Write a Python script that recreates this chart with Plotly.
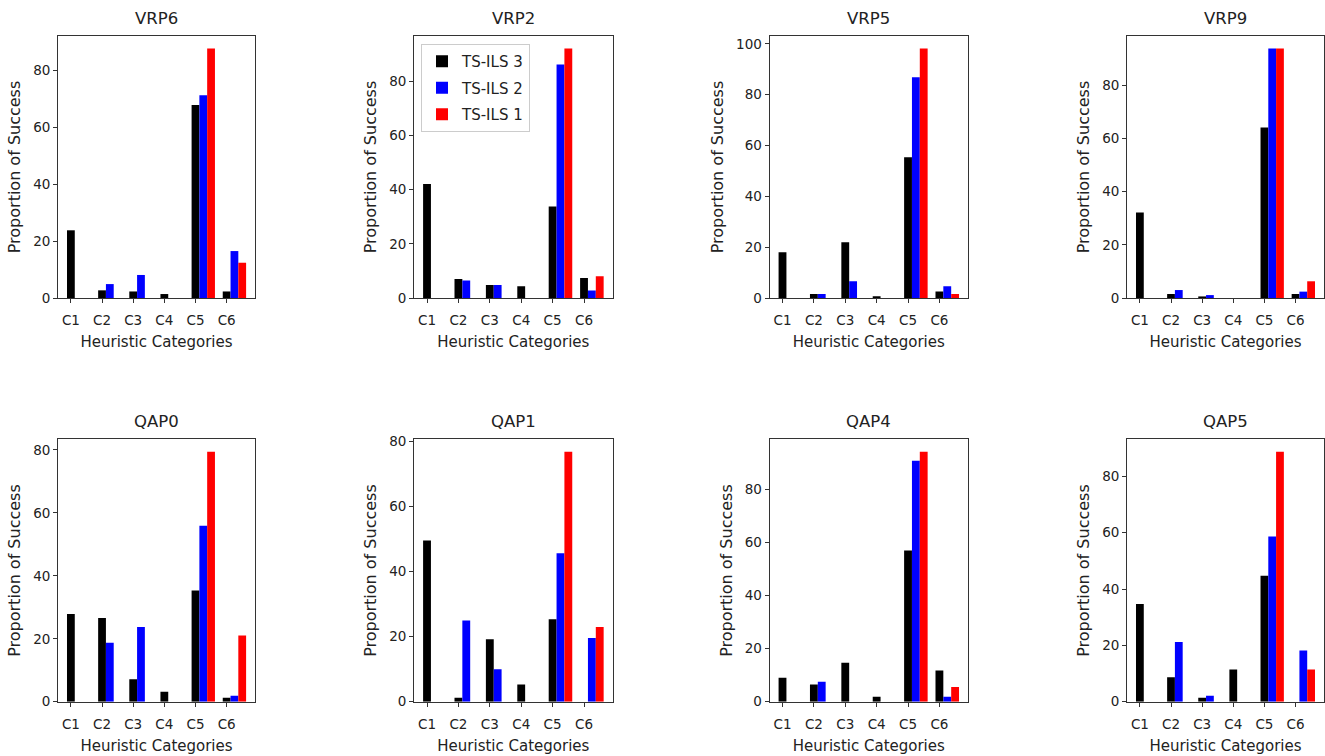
import plotly.graph_objects as go

categories = ["C1", "C2", "C3", "C4", "C5", "C6"]
instances = ["VRP6", "VRP2", "VRP5", "VRP9", "QAP0", "QAP1", "QAP4", "QAP5"]
series_names = ["TS-ILS 3", "TS-ILS 2", "TS-ILS 1"]
series_colors = ["#000000", "#0000ff", "#ff0000"]

# values per instance: TS-ILS 3, TS-ILS 2, TS-ILS 1
vrp6_ts3 = [23.8, 2.7, 2.3, 1.4, 67.8, 2.3]
vrp6_ts2 = [0, 4.9, 8.1, 0, 71.3, 16.5]
vrp6_ts1 = [0, 0, 0, 0, 87.7, 12.4]

vrp2_ts3 = [42.1, 7.0, 4.8, 4.3, 33.8, 7.4]
vrp2_ts2 = [0, 6.5, 4.8, 0, 86.2, 2.8]
vrp2_ts1 = [0, 0, 0, 0, 92.1, 8.0]

vrp5_ts3 = [18.0, 1.6, 21.9, 0.7, 55.4, 2.6]
vrp5_ts2 = [0, 1.6, 6.6, 0, 86.9, 4.6]
vrp5_ts1 = [0, 0, 0, 0, 98.2, 1.6]

vrp9_ts3 = [32.2, 1.5, 0.6, 0, 64.2, 1.5]
vrp9_ts2 = [0, 3.0, 1.1, 0, 93.9, 2.4]
vrp9_ts1 = [0, 0, 0, 0, 93.9, 6.3]

qap0_ts3 = [27.9, 26.6, 7.1, 3.2, 35.3, 1.3]
qap0_ts2 = [0, 18.7, 23.7, 0, 55.9, 1.9]
qap0_ts1 = [0, 0, 0, 0, 79.4, 21.0]

qap1_ts3 = [49.6, 1.2, 19.2, 5.3, 25.4, 0]
qap1_ts2 = [0, 25.0, 10.0, 0, 45.7, 19.6]
qap1_ts1 = [0, 0, 0, 0, 76.9, 23.0]

qap4_ts3 = [9.0, 6.5, 14.7, 1.9, 57.1, 11.8]
qap4_ts2 = [0, 7.5, 0, 0, 90.9, 1.9]
qap4_ts1 = [0, 0, 0, 0, 94.3, 5.6]

qap5_ts3 = [34.7, 8.7, 1.4, 11.4, 44.7, 0]
qap5_ts2 = [0, 21.2, 2.1, 0, 58.6, 18.2]
qap5_ts1 = [0, 0, 0, 0, 88.7, 11.4]

data = {
    "VRP6": [vrp6_ts3, vrp6_ts2, vrp6_ts1],
    "VRP2": [vrp2_ts3, vrp2_ts2, vrp2_ts1],
    "VRP5": [vrp5_ts3, vrp5_ts2, vrp5_ts1],
    "VRP9": [vrp9_ts3, vrp9_ts2, vrp9_ts1],
    "QAP0": [qap0_ts3, qap0_ts2, qap0_ts1],
    "QAP1": [qap1_ts3, qap1_ts2, qap1_ts1],
    "QAP4": [qap4_ts3, qap4_ts2, qap4_ts1],
    "QAP5": [qap5_ts3, qap5_ts2, qap5_ts1],
}

bar_w = 0.25
x_domains = [[0.0438, 0.1925], [0.3125, 0.4624], [0.5808, 0.7306], [0.8506, 0.9992]]
y_domains = [[0.6058, 0.9524], [0.0718, 0.4189]]
legend_panel = "VRP2"

FONT = "DejaVu Sans, Arial, sans-serif"
TXT = "#222222"

fig = go.Figure()
layout = dict(
    width=1325, height=756,
    margin=dict(l=0, r=0, t=0, b=0, autoexpand=False),
    paper_bgcolor="white", plot_bgcolor="white",
    barmode="overlay",
    font=dict(family=FONT, color=TXT),
    showlegend=True,
    legend=dict(x=421 / 1325, y=1 - 44 / 756, xanchor="left", yanchor="top",
                bgcolor="white", bordercolor="#cccccc", borderwidth=1,
                font=dict(size=15, family=FONT, color=TXT), tracegroupgap=4),
)
annotations = []

lo = -bar_w / 2
hi = (len(categories) - 1) + (len(series_names) - 0.5) * bar_w
pad = 0.05 * (hi - lo)

for k, name in enumerate(instances):
    r, c = divmod(k, 4)
    idx = "" if k == 0 else str(k + 1)
    xa, ya = "x" + idx, "y" + idx
    vals = data[name]
    ymax = max(max(v) for v in vals)
    for s, (sname, col) in enumerate(zip(series_names, series_colors)):
        fig.add_trace(go.Bar(
            x=categories, y=vals[s], name=sname,
            width=bar_w, offset=-bar_w / 2 + s * bar_w,
            marker=dict(color=col, line=dict(width=0)),
            xaxis=xa, yaxis=ya,
            legendgroup=sname, showlegend=(name == legend_panel),
        ))
    axis_common = dict(
        showline=True, mirror=True, linecolor="#333333", linewidth=1,
        ticks="outside", ticklen=4, tickcolor="#333333", showgrid=False,
        zeroline=False, automargin=False,
        tickfont=dict(size=13.5, family=FONT, color=TXT),
    )
    layout["xaxis" + idx] = dict(
        axis_common, domain=x_domains[c], anchor=ya,
        type="category", categoryorder="array", categoryarray=categories,
        range=[lo - pad, hi + pad], ticklabelstandoff=6,
        title=dict(text="Heuristic Categories", standoff=9,
                   font=dict(size=15, family=FONT, color=TXT)),
    )
    layout["yaxis" + idx] = dict(
        axis_common, domain=y_domains[r], anchor=xa,
        range=[0, ymax * 1.05], dtick=20, tick0=0,
        title=dict(text="Proportion of Success", standoff=8,
                   font=dict(size=16, family=FONT, color=TXT)),
    )
    annotations.append(dict(
        text=name, xref="paper", yref="paper",
        x=sum(x_domains[c]) / 2, y=y_domains[r][1],
        xanchor="center", yanchor="bottom", yshift=6, showarrow=False,
        font=dict(size=16.5, family=FONT, color=TXT),
    ))

layout["annotations"] = annotations
fig.update_layout(**layout)
fig.write_html(
    "out.html",
    config={"displayModeBar": False},
    post_script="document.body.style.margin='0';document.body.style.overflow='hidden';",
)
